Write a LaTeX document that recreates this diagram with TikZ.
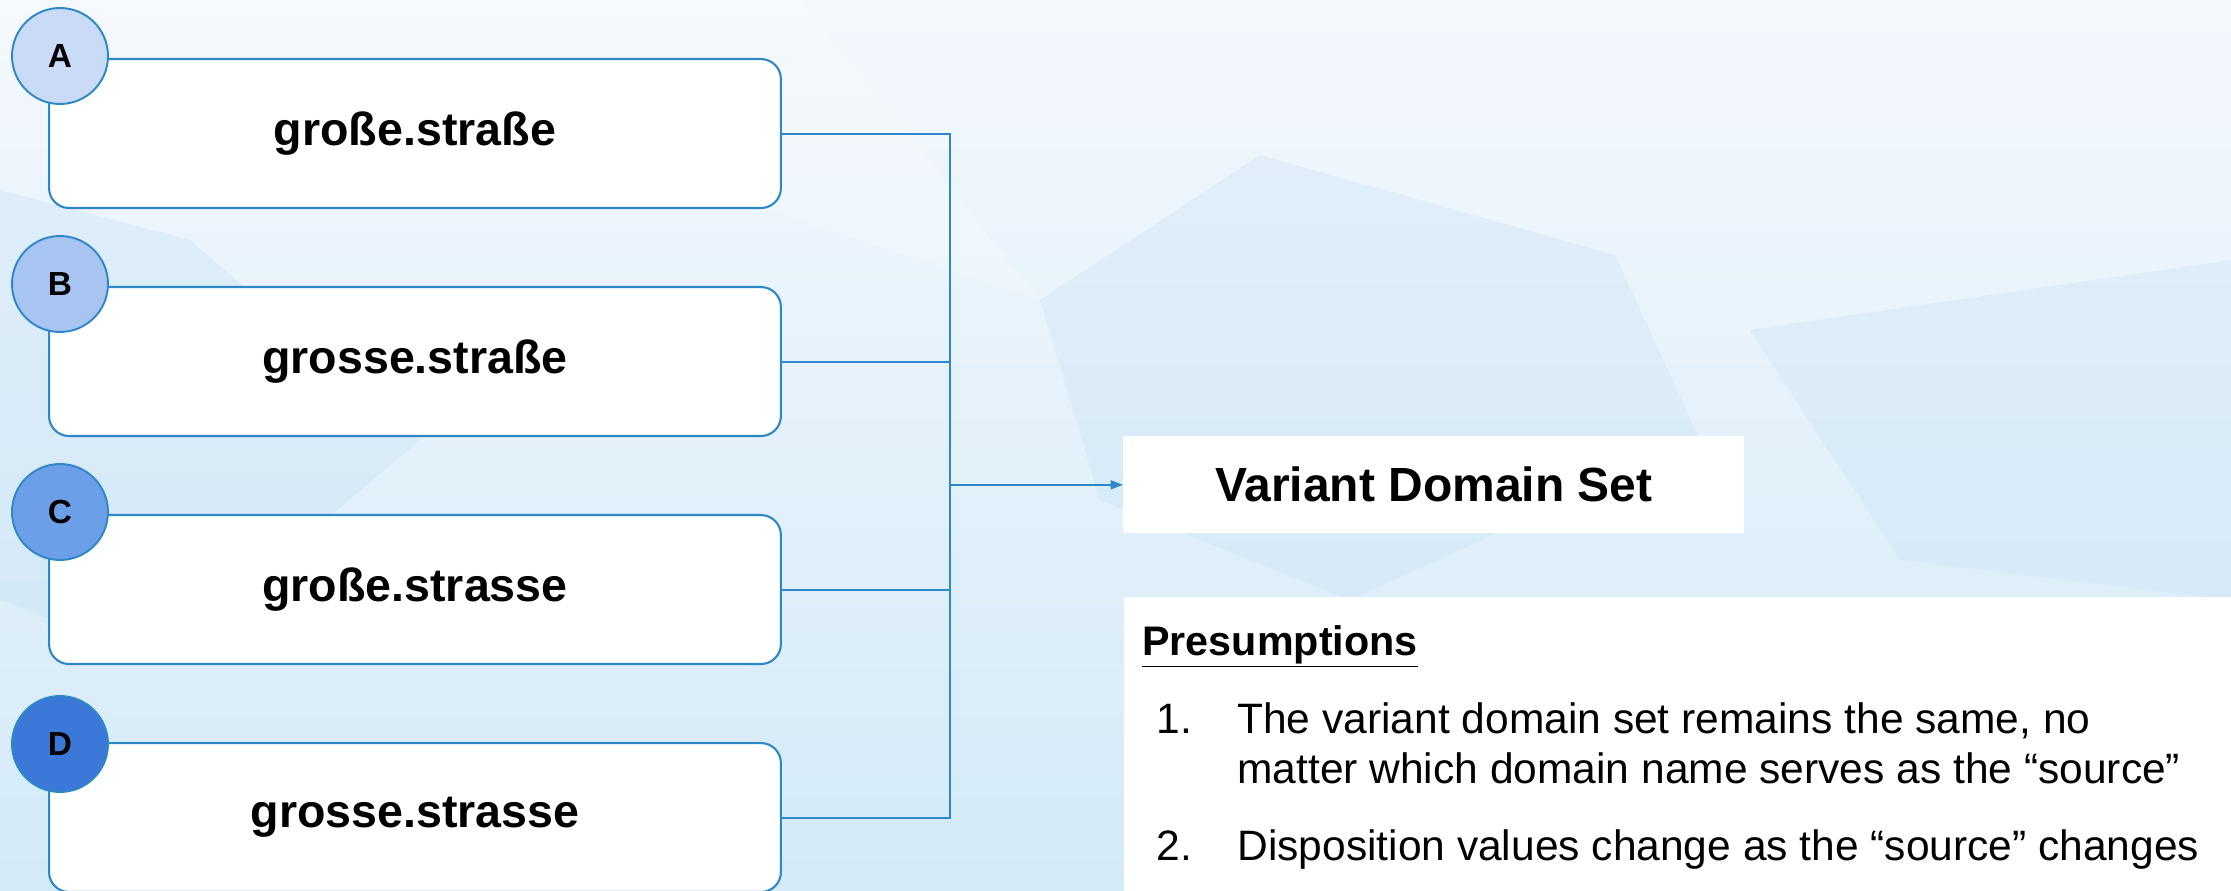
\documentclass[tikz,border=0pt]{standalone}
\usepackage{fontspec}
\setmainfont{Liberation Sans}
\usepackage{tikz, xcolor}
\usetikzlibrary{shapes,arrows.meta}

\definecolor{edgeblue}{HTML}{2E88C8}
\definecolor{circA}{HTML}{C9DBF6}
\definecolor{circB}{HTML}{A8C5F1}
\definecolor{circC}{HTML}{6D9FE9}
\definecolor{circD}{HTML}{3B78D8}
\definecolor{bgtop}{HTML}{F4F8FD}
\definecolor{bgmid}{HTML}{D3EAF8}
\definecolor{facet}{HTML}{C4E0F4}

\begin{document}
\begin{tikzpicture}[x=0.02cm, y=-0.02cm]
\tikzstyle{boxr}=[rectangle, draw=edgeblue, line width=1.2pt, fill=white, rounded corners=0.4cm, minimum width=14.64cm, minimum height=2.98cm, anchor=north west, font=\fontsize{26.5}{30}\selectfont\bfseries]
\tikzstyle{markc}=[circle, draw=edgeblue, line width=1.1pt, minimum size=1.92cm, inner sep=0pt, font=\fontsize{19}{20}\selectfont\bfseries]
\tikzstyle{linestyle}=[draw=edgeblue, line width=1.1pt]
\tikzstyle{textl}=[anchor=base west, inner sep=0pt, font=\fontsize{24.2}{28}\selectfont]

\useasboundingbox (0,0) rectangle (2231,891);
% background
\shade[top color=bgtop, bottom color=bgmid] (0,0) rectangle (2231,891);
\fill[facet, opacity=0.35] (0,190) -- (190,240) -- (420,440) -- (160,660) -- (0,600) -- cycle;
\fill[facet, opacity=0.3] (1040,300) -- (1260,155) -- (1615,255) -- (1700,440) -- (1350,600) -- (1100,500) -- cycle;
\fill[facet, opacity=0.3] (1750,330) -- (2231,260) -- (2231,600) -- (1900,560) -- cycle;
\fill[white, opacity=0.2] (0,0) -- (800,0) -- (1040,300) -- (500,120) -- (0,60) -- cycle;

% name boxes
\node[boxr] (N0) at (48,58) {große.straße};
\node[markc, fill=circA] (M0) at (60,56) {A};
\node[boxr] (N1) at (48,286) {grosse.straße};
\node[markc, fill=circB] (M1) at (60,284) {B};
\node[boxr] (N2) at (48,514) {große.strasse};
\node[markc, fill=circC] (M2) at (60,512) {C};
\node[boxr] (N3) at (48,742) {grosse.strasse};
\node[markc, fill=circD] (M3) at (60,744) {D};

% result
\node[rectangle, fill=white, minimum width=12.42cm, minimum height=1.94cm, anchor=north west, font=\fontsize{27.3}{30}\selectfont\bfseries] (V) at (1123,436) {Variant Domain Set};
\coordinate (J) at (950,485);
\draw[linestyle] (N0.east) -- (N0.east -| J) -- (N3.east -| J) -- (N3.east);
\draw[linestyle] (N1.east) -- (N1.east -| J);
\draw[linestyle] (N2.east) -- (N2.east -| J);
\draw[linestyle, -{Triangle[length=7pt, width=5pt]}] (V.west -| J) -- (V.west);

% presumptions
\node[rectangle, fill=white, minimum width=22.14cm, minimum height=5.88cm, anchor=north west] (P) at (1124,597) {};
\node[anchor=base west, inner sep=0pt, font=\fontsize{23.5}{26}\selectfont\bfseries] (P0) at (1142,655) {\underline{Presumptions}};
\node[textl] (P1n) at (1156,733) {1.};
\node[textl] (P1a) at (1237,733) {The variant domain set remains the same, no};
\node[textl] (P1b) at (1237,783) {matter which domain name serves as the “source”};
\node[textl] (P2n) at (1156,860) {2.};
\node[textl] (P2a) at (1237,860) {Disposition values change as the “source” changes};
\end{tikzpicture}
\end{document}
